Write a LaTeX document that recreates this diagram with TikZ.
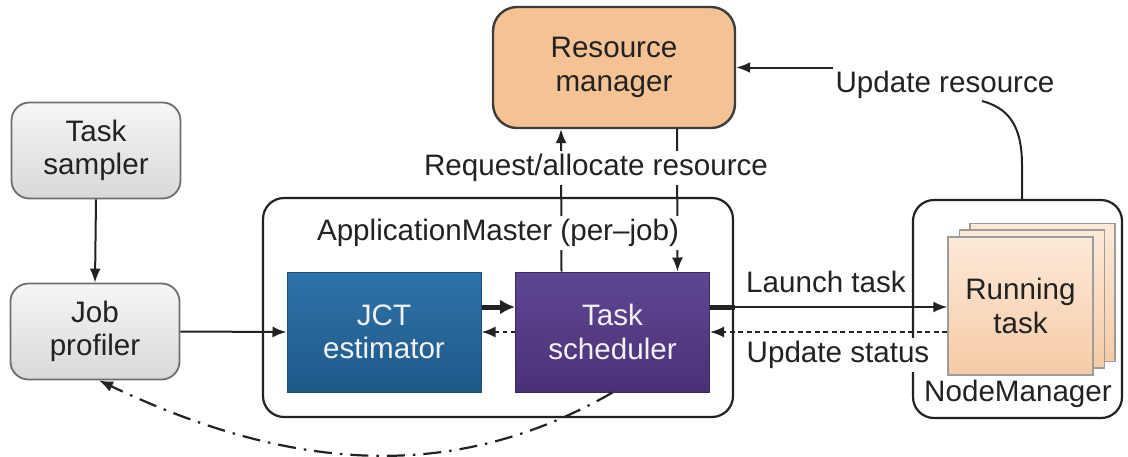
\documentclass[tikz,border=0pt]{standalone}
\usepackage{fontspec}
\setmainfont{Liberation Sans}
\usetikzlibrary{arrows.meta}

\definecolor{ink}{HTML}{222222}
\definecolor{rmfill}{HTML}{F5C294}
\definecolor{rmline}{HTML}{3C3C3C}
\definecolor{grayline}{HTML}{6E6E6E}
\definecolor{graytop}{HTML}{F6F6F6}
\definecolor{graybot}{HTML}{D8D8D8}
\definecolor{bluetop}{HTML}{2E73AA}
\definecolor{bluebot}{HTML}{1F5889}
\definecolor{blueline}{HTML}{1D4C75}
\definecolor{purtop}{HTML}{5E4793}
\definecolor{purbot}{HTML}{4A3177}
\definecolor{purline}{HTML}{3E2A63}
\definecolor{peachtop}{HTML}{FDE9D8}
\definecolor{peachbot}{HTML}{F6CBA6}
\definecolor{peachline}{HTML}{9C9C9C}
\definecolor{boxtext}{HTML}{F2F2F2}

\tikzset{
  txt/.style={font=\fontsize{29.6}{33.5}\selectfont, text=ink, align=center, inner sep=3pt},
  graybox/.style={txt, draw=grayline, line width=1.8pt, rounded corners=18pt,
    top color=graytop, bottom color=graybot, minimum width=169pt, minimum height=96pt},
  rmbox/.style={txt, draw=rmline, line width=2.4pt, rounded corners=24pt, fill=rmfill,
    minimum width=242pt, minimum height=121pt},
  groupbox/.style={draw=ink, line width=2.2pt, rounded corners=21pt, fill=white, inner sep=0pt},
  solidbox/.style={txt, text=boxtext, line width=1pt, minimum width=194pt, minimum height=120pt},
  jctbox/.style={solidbox, draw=blueline, top color=bluetop, bottom color=bluebot},
  schedbox/.style={solidbox, draw=purline, top color=purtop, bottom color=purbot},
  taskcard/.style={draw=peachline, line width=1.4pt, top color=peachtop, bottom color=peachbot,
    minimum width=145pt, minimum height=138pt, inner sep=0pt},
  lbl/.style={txt, fill=white},
  arr/.style={draw=ink, line width=2pt, -{Latex[length=14pt,width=11pt]}},
  fatarr/.style={draw=ink, line width=5pt, -{Latex[length=15pt,width=15pt]}},
  dotarr/.style={arr, dash pattern=on 4.5pt off 3.5pt},
  dashdotarr/.style={arr, line width=2.2pt, dash pattern=on 18pt off 8pt on 2.5pt off 8pt}
}

\begin{document}
\begin{tikzpicture}[x=1pt, y=-1pt]
\useasboundingbox (0,0) rectangle (1128,456);

% container boxes
\node[groupbox, minimum width=470pt, minimum height=219pt] (am) at (498,307.5) {};
\node[groupbox, minimum width=209pt, minimum height=218pt] (nm) at (1017.5,309) {};

% left-hand profiling chain
\node[graybox] (sampler) at (96,150.5) {Task\\sampler};
\node[graybox] (profiler) at (95,331.5) {Job\\profiler};

% cluster resource manager
\node[rmbox] (rm) at (614,67.5) {Resource\\manager};

% ApplicationMaster components
\node[jctbox] (jct) at (384,332) {JCT\\estimator};
\node[schedbox] (sched) at (612.5,332) {Task\\scheduler};

% stack of running tasks
\node[taskcard] (card3) at (1042.5,292.5) {};
\node[taskcard] (card2) at (1032,299) {};
\node[taskcard, txt] (card1) at (1020.5,306) {Running\\task};

% resource requests and grants
\draw[arr] ([xshift=-51pt]sched.north) -- ([xshift=-53pt]rm.south);
\draw[arr] ([xshift=63pt]rm.south) -- ([xshift=65pt]sched.north);

% profiling flow
\coordinate (launchbend) at (735,307);
\draw[arr] (sampler.south) -- (profiler.north);
\draw[arr] (profiler.east) -- (jct.west);
\draw[fatarr] (jct.east |- launchbend) -- (sched.west |- launchbend);
\draw[dotarr] (sched.west) -- (jct.east);

% task launch and status updates
\draw[line width=5pt, draw=ink] (sched.east |- launchbend) -- (launchbend);
\draw[arr] (launchbend) -- (card1.west |- launchbend);
\draw[dotarr, dash pattern=on 5pt off 3.5pt] (card1.west |- sched.east) -- (sched.east);

% resource updates from the node
\coordinate (nmtop) at (1022,200);
\coordinate (curveend) at (982,101);
\coordinate (rmarrstart) at (833,67.5);
\draw[draw=ink, line width=2pt] (nmtop) -- (1022,165) .. controls (1022,125) and (1008,108) .. (curveend);
\draw[arr] (rmarrstart) -- (rm.east);

% feedback from scheduler to profiler
\draw[dashdotarr] (sched.south) .. controls (460,480) and (300,476) .. ([xshift=4pt]profiler.south);

% labels
\node[lbl] (amlabel) at (498,233) {ApplicationMaster (per\textendash job)};
\node[lbl] (reqlabel) at (596,168) {Request/allocate resource};
\node[txt] (launchlabel) at (826,282) {Launch task};
\node[lbl] (statuslabel) at (838,355) {Update status};
\node[txt] (nmlabel) at (1018,394) {NodeManager};
\node[txt] (urlabel) at (945,85) {Update resource};
\end{tikzpicture}
\end{document}
